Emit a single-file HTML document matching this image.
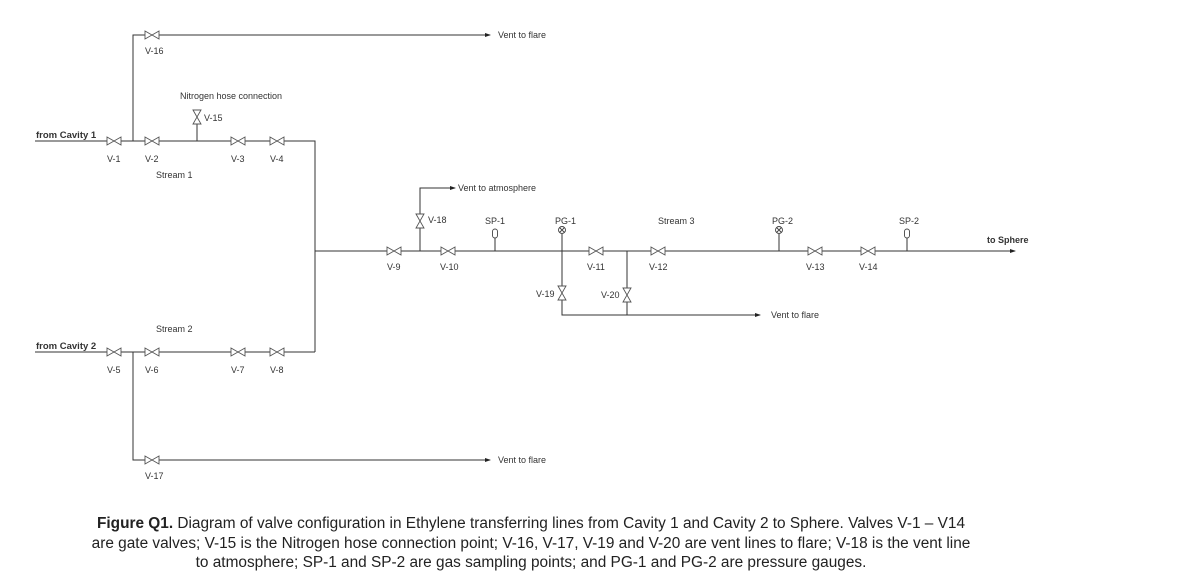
<!DOCTYPE html>
<html><head><style>
html,body{margin:0;padding:0;background:#fff;}
svg text{font-family:"Liberation Sans",sans-serif;fill:#333;}
.cap{position:absolute;left:0;width:1062px;text-align:center;font-family:"Liberation Sans",Arial,sans-serif;font-size:15.4px;color:#222;line-height:19.5px;top:514px;white-space:nowrap;}
</style></head><body>
<div style="position:relative;width:1183px;height:577px;overflow:hidden;">
<svg width="1183" height="577" viewBox="0 0 1183 577" xmlns="http://www.w3.org/2000/svg">
<defs>
<g id="vh"><path d="M-7,-4 L7,4 L7,-4 L-7,4 Z" fill="#fff" stroke="#555" stroke-width="0.9"/></g>
<g id="vv"><path d="M-4,-7 L4,7 L-4,7 L4,-7 Z" fill="#fff" stroke="#555" stroke-width="0.9"/></g>
<marker id="ar" markerWidth="6" markerHeight="6" refX="5" refY="3" orient="auto"><path d="M0,1 L6,3 L0,5Z" fill="#222"/></marker>
</defs>
<g stroke="#333" stroke-width="1" fill="none">
<path d="M35,141 H315 V352 M35,352 H315"/>
<path d="M133,141 V35 H490" marker-end="url(#ar)"/>
<path d="M133,352 V460 H490" marker-end="url(#ar)"/>
<path d="M315,251 H1015" marker-end="url(#ar)"/>
<path d="M197,141 V124"/>
<path d="M420,251 V188 H455" marker-end="url(#ar)"/>
<path d="M562,236 V315 H760" marker-end="url(#ar)"/>
<path d="M627,251 V315"/>
<path d="M495,251 V238 M562,251 V234 M779,251 V234 M907,251 V238"/>
</g>
<g>
<use href="#vh" x="114" y="141"/><use href="#vh" x="152" y="141"/><use href="#vh" x="238" y="141"/><use href="#vh" x="277" y="141"/>
<use href="#vh" x="152" y="35"/>
<use href="#vh" x="114" y="352"/><use href="#vh" x="152" y="352"/><use href="#vh" x="238" y="352"/><use href="#vh" x="277" y="352"/>
<use href="#vh" x="152" y="460"/>
<use href="#vh" x="394" y="251"/><use href="#vh" x="448" y="251"/><use href="#vh" x="596" y="251"/><use href="#vh" x="658" y="251"/>
<use href="#vh" x="815" y="251"/><use href="#vh" x="868" y="251"/>
<use href="#vv" x="197" y="117"/><use href="#vv" x="420" y="221"/><use href="#vv" x="562" y="293"/><use href="#vv" x="627" y="295"/>
</g>
<g fill="#fff" stroke="#444" stroke-width="0.9">
<rect x="492.5" y="229" width="5" height="9" rx="2.5"/>
<rect x="904.5" y="229" width="5" height="9" rx="2.5"/>
<circle cx="562" cy="230" r="3.5"/><path d="M559.5,227.5 L564.5,232.5 M564.5,227.5 L559.5,232.5"/>
<circle cx="779" cy="230" r="3.5"/><path d="M776.5,227.5 L781.5,232.5 M781.5,227.5 L776.5,232.5"/>
</g>
<g font-size="9">
<text x="145" y="54">V-16</text>
<text x="180" y="99">Nitrogen hose connection</text>
<text x="204" y="121">V-15</text>
<text x="36" y="138" font-weight="bold" font-size="9.5" fill="#222">from Cavity 1</text>
<text x="107" y="162">V-1</text><text x="145" y="162">V-2</text><text x="231" y="162">V-3</text><text x="270" y="162">V-4</text>
<text x="156" y="178">Stream 1</text>
<text x="156" y="332">Stream 2</text>
<text x="36" y="349" font-weight="bold" font-size="9.5" fill="#222">from Cavity 2</text>
<text x="107" y="373">V-5</text><text x="145" y="373">V-6</text><text x="231" y="373">V-7</text><text x="270" y="373">V-8</text>
<text x="145" y="479">V-17</text>
<text x="498" y="38">Vent to flare</text>
<text x="498" y="463">Vent to flare</text>
<text x="458" y="191">Vent to atmosphere</text>
<text x="428" y="223">V-18</text>
<text x="485" y="224">SP-1</text>
<text x="555" y="224">PG-1</text>
<text x="658" y="224">Stream 3</text>
<text x="772" y="224">PG-2</text>
<text x="899" y="224">SP-2</text>
<text x="987" y="243" font-weight="bold" fill="#222">to Sphere</text>
<text x="387" y="270">V-9</text><text x="440" y="270">V-10</text><text x="587" y="270">V-11</text><text x="649" y="270">V-12</text>
<text x="806" y="270">V-13</text><text x="859" y="270">V-14</text>
<text x="536" y="297">V-19</text><text x="601" y="298">V-20</text>
<text x="771" y="318">Vent to flare</text>
</g>
</svg>
<div class="cap"><b>Figure Q1.</b> Diagram of valve configuration in Ethylene transferring lines from Cavity 1 and Cavity 2 to Sphere. Valves V-1 – V14<br>are gate valves; V-15 is the Nitrogen hose connection point; V-16, V-17, V-19 and V-20 are vent lines to flare; V-18 is the vent line<br>to atmosphere; SP-1 and SP-2 are gas sampling points; and PG-1 and PG-2 are pressure gauges.</div>
</div>
</body></html>
